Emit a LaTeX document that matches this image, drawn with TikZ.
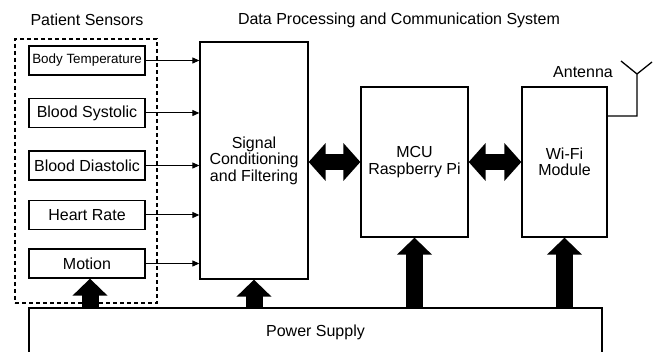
\documentclass[tikz,border=0pt]{standalone}
\usepackage{fontspec}
\setmainfont{Liberation Sans}
\usetikzlibrary{arrows.meta}
\begin{document}
\begin{tikzpicture}[x=1pt,y=-1pt,
  box/.style={draw, line width=1.3pt, inner sep=0pt, align=center, font=\fontsize{16}{16.5}\selectfont},
  sensor/.style={box, minimum width=116pt, minimum height=29pt},
  sigarrow/.style={-{Triangle[length=7pt,width=6pt]}, line width=1pt},
  fatup/.style={line width=17pt, -{Triangle[length=17pt,width=34pt]}},
  fatdbl/.style={line width=16pt, {Triangle[length=17pt,width=37pt]}-{Triangle[length=17pt,width=37pt]}},
  lbl/.style={font=\fontsize{16}{16.5}\selectfont, inner sep=0pt}]
\clip (0,0) rectangle (659,352);
\useasboundingbox (0,0) rectangle (659,352);
\fill[white] (0,0) rectangle (659,352);

\node[lbl] (pstitle) at (87,20) {Patient Sensors};
\node[lbl] (dptitle) at (399,20) {Data Processing and Communication System};

\node[draw, dash pattern=on 4pt off 3pt, line width=1.2pt, minimum width=142pt, minimum height=264pt, inner sep=0pt] (grp) at (86,171) {};

\node[sensor, font=\fontsize{13.4}{14}\selectfont] (bt) at (87,60.5) {Body Temperature};
\node[sensor] (bs) at (87,113) {Blood Systolic};
\node[sensor] (bd) at (87,165.5) {Blood Diastolic};
\node[sensor] (hr) at (87,215) {Heart Rate};
\node[sensor] (mo) at (87,263.5) {Motion};

\node[box, minimum width=108pt, minimum height=237pt] (sc) at (254,160.5) {Signal\\Conditioning\\and Filtering};
\node[box, minimum width=107pt, minimum height=150pt] (mcu) at (414.5,162) {MCU\\Raspberry Pi};
\node[box, minimum width=85pt, minimum height=150pt] (wifi) at (564.5,162) {Wi-Fi\\Module};

\node[box, minimum width=573pt, minimum height=48pt] (pwr) at (315.5,332) {Power Supply};

\foreach \s in {bt,bs,bd,hr,mo}
  \draw[sigarrow] (\s.east) -- (\s.east -| sc.west);

\draw[fatdbl] (sc.east |- mcu.west) -- (mcu.west);
\draw[fatdbl] (mcu.east) -- (wifi.west);

\draw[fatup] ([xshift=3pt]pwr.north -| mo.south) -- ([xshift=3pt]mo.south);
\draw[fatup] (pwr.north -| sc.south) -- (sc.south);
\draw[fatup] (pwr.north -| mcu.south) -- (mcu.south);
\draw[fatup] (pwr.north -| wifi.south) -- (wifi.south);

\coordinate (ab) at (637,116);
\coordinate (av) at (637,74);
\coordinate (al) at (621,61);
\coordinate (ar) at (652,62);
\draw[line width=1.3pt] (wifi.east |- ab) -- (ab) -- (av) -- (al);
\draw[line width=1.3pt] (av) -- (ar);
\node[lbl] (ant) at (583,72) {Antenna};
\end{tikzpicture}
\end{document}
